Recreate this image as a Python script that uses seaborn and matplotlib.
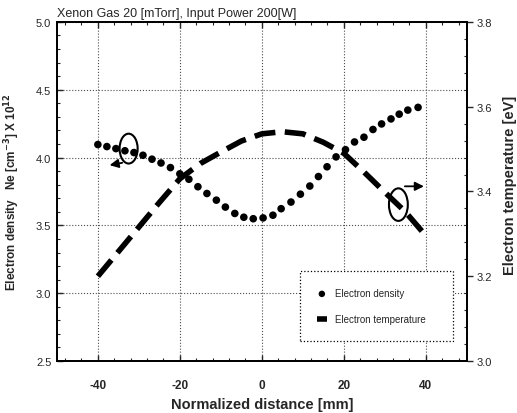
import numpy as np
import pandas as pd
import matplotlib
matplotlib.use("Agg")
import matplotlib.pyplot as plt
from matplotlib.patches import Ellipse
from matplotlib.ticker import MultipleLocator, FormatStrFormatter
import seaborn as sns

sns.set_style("ticks")
plt.rcParams['font.family'] = ['Liberation Sans', 'DejaVu Sans']
plt.rcParams['axes.unicode_minus'] = False

# 1. data
dens_x = [-40.0, -37.8, -35.6, -33.4, -31.2, -29.0, -26.8, -24.6, -22.3, -20.0,
          -17.8, -15.6, -13.4, -11.1, -8.9, -6.6, -4.4, -2.1, 0.3, 2.7,
          4.7, 7.1, 9.4, 11.7, 13.8, 15.9, 18.1, 20.4, 22.6, 24.9,
          27.1, 29.2, 31.5, 33.5, 35.6, 38.1]
density = [4.096, 4.081, 4.066, 4.050, 4.037, 4.017, 3.988, 3.960, 3.926, 3.880,
           3.840, 3.785, 3.735, 3.686, 3.635, 3.588, 3.560, 3.549, 3.555, 3.575,
           3.623, 3.672, 3.730, 3.790, 3.860, 3.932, 4.005, 4.058, 4.115, 4.150,
           4.207, 4.248, 4.285, 4.320, 4.350, 4.370]

temp_x = [-40, -35, -30, -25, -20, -15, -10, -5, 0, 5, 10, 15, 20, 25, 30, 35, 39.6]
temperature = [3.200, 3.258, 3.316, 3.374, 3.430, 3.466, 3.493, 3.519, 3.536, 3.541,
               3.536, 3.516, 3.490, 3.445, 3.398, 3.352, 3.300]

dens_df = pd.DataFrame({'x': dens_x, 'Ne': density})
temp_df = pd.DataFrame({'x': temp_x, 'Te': temperature})

# 2. figure
fig = plt.figure(figsize=(5.17, 4.14), dpi=100)
ax = fig.add_axes([0.110, 0.1256, 0.793, 0.819])
ax2 = ax.twinx()

sns.scatterplot(data=dens_df, x='x', y='Ne', ax=ax, color='black', s=30,
                edgecolor='none', legend=False, label='Electron density', zorder=3)
sns.lineplot(data=temp_df, x='x', y='Te', ax=ax2, color='black', lw=4.0,
             linestyle=(0, (3.8, 1.7)), legend=False, label='Electron temperature')
ax2.get_lines()[0].set_solid_capstyle('butt')
ax2.get_lines()[0].set_dash_capstyle('butt')

ax.set_xlim(-50, 50)
ax.set_ylim(2.5, 5.0)
ax2.set_ylim(3.0, 3.8)

ax.xaxis.set_major_locator(MultipleLocator(20))
ax.xaxis.set_minor_locator(MultipleLocator(4))
ax.yaxis.set_major_locator(MultipleLocator(0.5))
ax.yaxis.set_minor_locator(MultipleLocator(0.1))
ax2.yaxis.set_major_locator(MultipleLocator(0.2))
ax2.yaxis.set_minor_locator(MultipleLocator(0.04))
ax.yaxis.set_major_formatter(FormatStrFormatter('%.1f'))
ax2.yaxis.set_major_formatter(FormatStrFormatter('%.1f'))

ax.grid(True, which='major', linestyle=':', color='0.3', linewidth=0.8)
ax.set_axisbelow(True)

ax.tick_params(axis='x', which='both', direction='in', top=True, bottom=True,
               labelsize=8.5, pad=13)
ax.tick_params(axis='x', which='major', length=4, width=1)
ax.tick_params(axis='x', which='minor', length=2.5, width=0.8)
ax.tick_params(axis='y', which='both', direction='in', right=False, labelsize=8, pad=4)
ax.tick_params(axis='y', which='major', length=4, width=1)
ax.tick_params(axis='y', which='minor', length=2.5, width=0.8)
for lab in ax.get_xticklabels():
    lab.set_fontweight('bold')

ax2.tick_params(axis='y', which='major', direction='out', length=4, width=1,
                labelsize=8, pad=3)
ax2.tick_params(axis='y', which='minor', direction='in', length=2.5, width=0.8)

for a in (ax, ax2):
    for sp in a.spines.values():
        sp.set_linewidth(1.3)
        sp.set_color('black')

ax.set_title('Xenon Gas 20 [mTorr], Input Power 200[W]', loc='left', fontsize=9, pad=4)
ax.set_xlabel('Normalized distance [mm]', fontsize=10.5, fontweight='bold', labelpad=4)
ax.set_ylabel(r'Electron density   Ne [cm$^{\mathbf{-3}}$] X 10$^{\mathbf{12}}$',
              fontsize=8.5, fontweight='bold')
ax.yaxis.set_label_coords(-0.086, 0.5)
ax2.set_ylabel('Electron temperature [eV]', fontsize=10.5, fontweight='bold', rotation=90)
ax2.yaxis.set_label_coords(1.088, 0.52)

# 3. annotations: ellipses and arrows
left_ring = (-32.5, 4.066)
right_ring = (33.3, 3.653)
ax.add_patch(Ellipse(left_ring, 4.4, 0.22, fill=False, lw=1.5, color='black', zorder=4))
ax.add_patch(Ellipse(right_ring, 4.6, 0.24, fill=False, lw=1.5, color='black', zorder=4))
ax.annotate('', xy=(-37.8, 3.94), xytext=(-33.4, 3.965),
            arrowprops=dict(arrowstyle='-|>', color='black', lw=1.3, mutation_scale=13))
ax.annotate('', xy=(40.2, 3.788), xytext=(34.2, 3.788),
            arrowprops=dict(arrowstyle='-|>', color='black', lw=1.3, mutation_scale=13))

# 4. legend
handles = [ax.collections[0], ax2.get_lines()[0]]
labels = ['Electron density', 'Electron temperature']
leg = ax2.legend(handles, labels, loc='lower left', bbox_to_anchor=(0.593, 0.059, 0.373, 0.204),
                 mode='expand', fontsize=7, frameon=True, fancybox=False,
                 borderpad=1.75, labelspacing=1.6, handlelength=1.0, handletextpad=0.9,
                 borderaxespad=0, scatterpoints=1, markerscale=0.85)
leg.get_frame().set_edgecolor('black')
leg.get_frame().set_linestyle(':')
leg.get_frame().set_linewidth(0.9)
leg.get_frame().set_alpha(1)

fig.savefig('out.png', dpi=100)
